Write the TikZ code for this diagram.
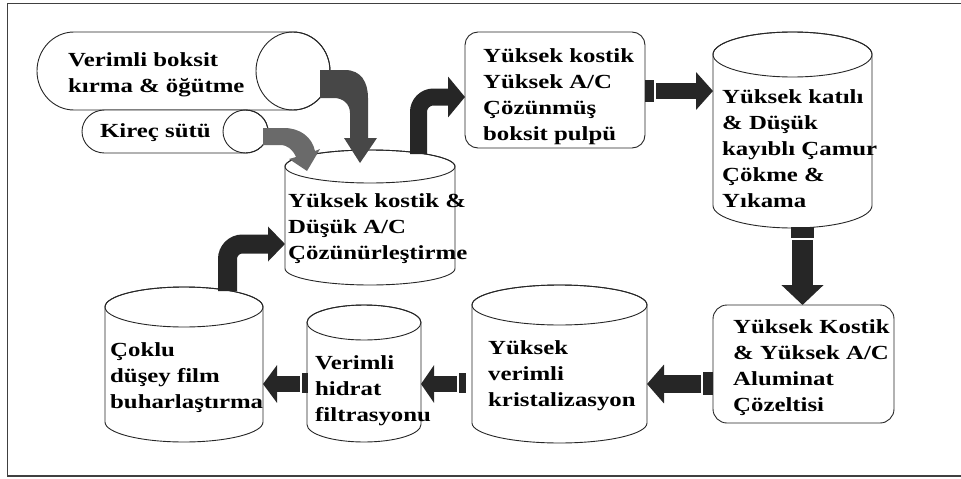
\documentclass[tikz,border=0pt]{standalone}
\usepackage{fontspec}
\usetikzlibrary{arrows.meta}
\newfontfamily\lblfont{Liberation Serif}[FakeStretch=1.24]

\definecolor{arrowdark}{HTML}{262626}
\definecolor{arrowmid}{HTML}{474747}
\definecolor{arrowlight}{HTML}{6A6A6A}

\tikzset{
  outline/.style={draw=black!85, line width=0.9, fill=white},
  lbl/.style={anchor=west, align=left, inner sep=0pt,
              font=\lblfont\bfseries\fontsize{20}{26}\selectfont},
  blockarrow/.style={draw=none, fill=arrowdark},
  stubbar/.style={fill=arrowdark, draw=none},
  thickflow/.style 2 args={arrowdark, line width=#1,
              -{Triangle[width=#2, length=17pt]}},
}

% vertical cylinder: centre x, half width, top-ellipse y, bottom-ellipse y, half height
\newcommand\vcyl[5]{%
  \filldraw[outline] ({#1-#2},#3) -- ({#1-#2},#4)
     arc[start angle=180, end angle=0, x radius=#2, y radius=#5]
     -- ({#1+#2},#3)
     arc[start angle=0, end angle=-180, x radius=#2, y radius=#5] -- cycle;
  \draw[outline, fill=none] (#1,#3) ellipse[x radius=#2, y radius=#5];}

% horizontal cylinder: left-end centre x, right-end centre x, centre y, half width, half height
\newcommand\hcyl[5]{%
  \filldraw[outline] (#2,{#3-#5}) -- (#1,{#3-#5})
     arc[start angle=-90, end angle=-270, x radius=#4, y radius=#5]
     -- (#2,{#3+#5})
     arc[start angle=90, end angle=-90, x radius=#4, y radius=#5] -- cycle;
  \draw[outline, fill=none] (#2,#3) ellipse[x radius=#4, y radius=#5];}

\begin{document}
\begin{tikzpicture}[x=1pt, y=-1pt]
\useasboundingbox (0,0) rectangle (961,479);
\clip (0,0) rectangle (961,479);

% outer frame (open to the right)
\draw[black!75, line width=1.6] (7.5,3.5) rectangle (1000,476);

% ---------- vessels and boxes ----------
\hcyl{74}{293}{71}{37}{39}
\hcyl{104.5}{245.5}{131.5}{22.5}{21.5}
\vcyl{370}{85}{166.5}{268.5}{16.5}
\vcyl{792.5}{79.5}{54.5}{205.5}{22.5}
\vcyl{559.5}{87.5}{305}{423}{20}
\vcyl{364}{57}{322.5}{424.5}{17.5}
\vcyl{184}{79}{307}{422}{20}
\draw[outline, rounded corners=13] (465,32) rectangle (645,148);
\draw[outline, rounded corners=14] (713,305) rectangle (894,423);

% ---------- labels ----------
\node[lbl] (grind) at (68,75) {Verimli boksit\\kırma \& öğütme};
\node[lbl] (lime)  at (100,133) {Kireç sütü};
\node[lbl] (dig)   at (288,229) {Yüksek kostik \&\\Düşük A/C\\Çözünürleştirme};
\node[lbl] (pulp)  at (483,97) {Yüksek kostik\\Yüksek A/C\\Çözünmüş\\boksit pulpü};
\node[lbl] (mud)   at (722,149) {Yüksek katılı\\\& Düşük\\kayıblı Çamur\\Çökme \&\\Yıkama};
\node[lbl] (alum)  at (733,368) {Yüksek Kostik\\\& Yüksek A/C\\Aluminat\\Çözeltisi};
\node[lbl] (cryst) at (488,376) {Yüksek\\verimli\\kristalizasyon};
\node[lbl] (filt)  at (315,391) {Verimli\\hidrat\\filtrasyonu};
\node[lbl] (evap)  at (110,378) {Çoklu\\düşey film\\buharlaştırma};

% ---------- connector end points ----------
\coordinate (digUp)   at (418.5,154);
\coordinate (pulpIn)  at (465,97);
\coordinate (pulpOut) at (656,91);
\coordinate (mudIn)   at (713,91);
\coordinate (mudOut)  at (802.5,240);
\coordinate (alumIn)  at (802.5,305);
\coordinate (alumOut) at (701,384);
\coordinate (crysIn)  at (647,384);
\coordinate (crysOut) at (457,384);
\coordinate (filtIn)  at (421,384);
\coordinate (filtOut) at (300,384);
\coordinate (evapIn)  at (263,384);
\coordinate (evapUp)  at (227.5,291);
\coordinate (digIn)   at (285,244);

% ---------- feed arrows (tapered, grey) ----------
\fill[arrowmid] (320,70) -- (345,70) .. controls (361,70) and (368,82) .. (368,98)
  -- (368,138) -- (377,138) -- (360,163) -- (344,138) -- (350,138) -- (350,113)
  .. controls (350,104) and (343,98) .. (334,98) -- (320,98) -- cycle;
\fill[arrowlight] (263,128) -- (284,128) .. controls (300,128) and (312,137) .. (315,151)
  -- (320,149) -- (307,171) -- (289,159) -- (296,157)
  .. controls (293,150) and (288,145) .. (280,145) -- (263,145) -- cycle;

% ---------- process flow arrows ----------
\draw[thickflow={17}{40pt}, rounded corners=15] (digUp) -- (digUp |- pulpIn) -- (pulpIn);

\fill[stubbar] (645,80) rectangle (654,102);
\draw[thickflow={16}{37pt}] (pulpOut) -- (mudIn);

\fill[stubbar] (791,227) rectangle (814,238);
\draw[arrowdark, line width=21, -{Triangle[width=41pt, length=20pt]}] (mudOut) -- (alumIn);

\fill[stubbar] (703,372) rectangle (713,395);
\draw[thickflow={18}{38pt}] (alumOut) -- (crysIn);

\fill[stubbar] (459,373) rectangle (466,393);
\draw[arrowdark, line width=16, -{Triangle[width=37pt, length=13pt]}] (crysOut) -- (filtIn);

\fill[stubbar] (302,373) rectangle (308,393);
\draw[arrowdark, line width=16, -{Triangle[width=37pt, length=14pt]}] (filtOut) -- (evapIn);

\draw[thickflow={19}{34pt}, rounded corners=15] (evapUp) -- (evapUp |- digIn) -- (digIn);
\end{tikzpicture}
\end{document}
